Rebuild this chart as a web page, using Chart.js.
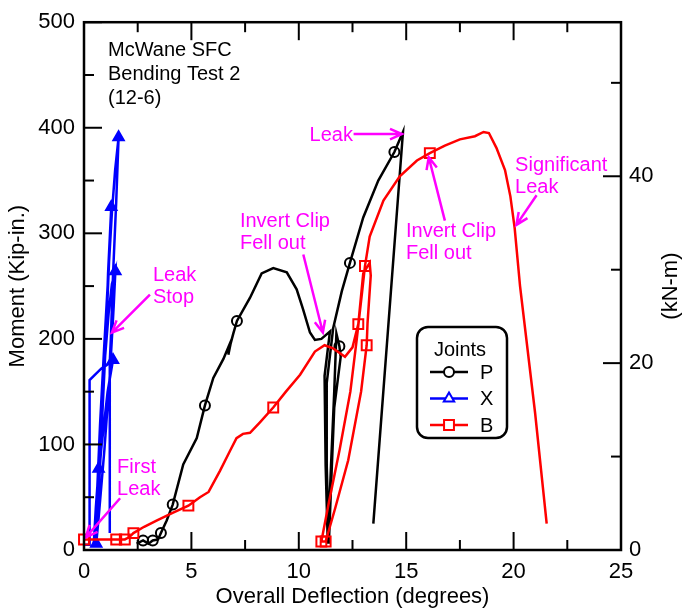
<!DOCTYPE html>
<html>
<head>
<meta charset="utf-8">
<script src="https://cdn.jsdelivr.net/npm/chart.js@4.4.0/dist/chart.umd.min.js"></script>
<style>
  html, body { margin: 0; padding: 0; background: #fff; }
  #wrap { width: 683px; height: 613px; }
</style>
</head>
<body>
<div id="wrap"><canvas id="bendChart" width="683" height="613"></canvas></div>
<script>
// Joint P (black, circles) - deflection in degrees, moment in kip-in.
const pDeflection = [2.45, 2.75, 3.0, 3.2, 3.45, 3.58, 3.85, 4.13, 4.62, 5.25, 5.63, 6.02, 6.49, 6.8, 6.72, 6.82, 6.95, 7.12,
  7.73, 8.27, 8.81, 9.44, 9.9, 10.2, 10.52, 10.75, 11.05, 11.45, 11.2, 11.25, 11.35, 11.5, 11.65, 11.75, 11.89, 11.95,
  11.65, 11.5, 11.4, 11.3, 11.3, 11.6, 12.0, 12.38, 13.0, 13.7, 14.45, 14.85, 13.47];
const pMoment = [6, 9, 6, 9, 10, 16, 28, 43, 81, 106, 137, 163, 181, 196, 185, 195, 205, 217,
  239, 262, 267, 263, 247, 228, 206, 199, 200, 207, 165, 80, 6, 80, 150, 205, 193, 183,
  135, 60, 6, 80, 158, 210, 245, 272, 315, 350, 377, 396, 25];
const pMarkers = [1, 3, 5, 7, 10, 17, 34, 43, 46];

// Joint X (blue, triangles)
const xDeflection = [0.05, 0.26, 0.26, 0.81, 1.05, 1.35, 1.1, 0.8, 0.55, 0.45, 0.55, 0.68, 0.8, 0.95, 1.15, 1.3, 1.46,
  1.38, 1.2, 0.95, 0.7, 0.57, 0.62, 0.75, 0.88, 1.0, 1.12, 1.27, 1.2, 1.05, 0.85, 0.65, 0.5,
  0.6, 0.75, 0.92, 1.1, 1.3, 1.45, 1.61, 1.5, 1.35, 1.25, 1.2, 1.2];
const xMoment = [5, 5, 161, 172, 175, 180, 150, 95, 35, 4, 40, 77, 120, 175, 225, 252, 264,
  230, 165, 95, 35, 6, 30, 80, 140, 190, 262, 325, 290, 215, 130, 55, 5,
  50, 120, 185, 250, 320, 360, 391, 330, 260, 200, 178, 16];
const xMarkers = [5, 11, 16, 21, 27, 39];

// Joint B (red, squares)
const bDeflection = [0.0, 0.8, 1.5, 1.9, 2.1, 2.3, 2.8, 3.4, 4.1, 4.86, 5.4, 5.8, 6.33, 6.8, 7.1, 7.4, 7.73, 8.19, 8.81,
  9.4, 10.06, 10.75, 11.2, 11.6, 12.15, 12.5, 12.77, 13.0, 13.3, 13.35, 13.2, 13.16, 12.9, 12.3, 11.7, 11.25,
  11.05, 11.4, 11.9, 12.4, 12.7, 12.95, 13.08, 13.3, 13.94, 14.7, 15.5, 16.1, 16.8, 17.5, 18.2, 18.6, 18.85,
  19.2, 19.6, 19.85, 20.05, 20.3, 21.0, 21.54];
const bMoment = [10, 10, 10, 10, 12, 16, 22, 28, 35, 42, 50, 55, 75, 94, 106, 110, 111, 121, 135,
  150, 166, 188, 194, 191, 183, 192, 214, 262, 272, 260, 215, 194, 150, 85, 40, 8,
  8, 45, 95, 150, 200, 245, 269, 297, 331, 354, 369, 376, 383, 389, 392, 396, 395,
  381, 360, 335, 305, 250, 130, 25];
const bMarkers = [0, 2, 3, 5, 9, 18, 26, 31, 35, 36, 42, 47];

// axis ticks
const deflectionTicks = [0, 5, 10, 15, 20, 25];
const momentTicks = [0, 100, 200, 300, 400, 500];
const knmTicks = [0, 20, 40];
const KIPIN_TO_KNM = 0.11298;

// callouts: text anchored in data units, arrows from/to in data units
const notes = [
  { lines: ['Leak'], at: [12.52, 393], align: 'right', from: [12.55, 394], to: [14.8, 394] },
  { lines: ['Invert Clip', 'Fell out'], at: [7.26, 311], align: 'left', from: [10.21, 280], to: [11.12, 206] },
  { lines: ['Invert Clip', 'Fell out'], at: [14.99, 302], align: 'left', from: [16.8, 312], to: [16.05, 372] },
  { lines: ['Significant', 'Leak'], at: [20.07, 364], align: 'left', from: [21.07, 336], to: [20.13, 308] },
  { lines: ['Leak', 'Stop'], at: [3.21, 260], align: 'left', from: [3.07, 242], to: [1.3, 206] },
  { lines: ['First', 'Leak'], at: [1.54, 78], align: 'left', from: [1.68, 49], to: [0.08, 12] }
];

const FONT = "'Liberation Sans', Arial, sans-serif";
const MAGENTA = '#ff00ff';

function points(xs, ys) {
  return xs.map((x, i) => ({ x: x, y: ys[i] }));
}
function radii(n, marks, r) {
  return Array.from({ length: n }, (_, i) => marks.includes(i) ? r : 0);
}

const seriesStyle = [
  { label: 'P', xs: pDeflection, ys: pMoment, marks: pMarkers, color: '#000000', style: 'circle', r: 5, fill: 'rgba(0,0,0,0)', order: 1 },
  { label: 'X', xs: xDeflection, ys: xMoment, marks: xMarkers, color: '#0000ff', style: 'triangle', r: 6, fill: '#0000ff', order: 2 },
  { label: 'B', xs: bDeflection, ys: bMoment, marks: bMarkers, color: '#ff0000', style: 'rect', r: 7, fill: 'rgba(0,0,0,0)', order: 0 }
];

const datasets = seriesStyle.map(s => ({
  label: s.label,
  data: points(s.xs, s.ys),
  showLine: true,
  borderColor: s.color,
  borderWidth: 2.5,
  tension: 0,
  pointStyle: s.style,
  pointRadius: radii(s.xs.length, s.marks, s.r),
  pointHoverRadius: radii(s.xs.length, s.marks, s.r),
  pointBorderColor: s.color,
  pointBackgroundColor: s.fill,
  pointBorderWidth: 2,
  order: s.order,
  clip: false
}));

function arrow(ctx, x1, y1, x2, y2) {
  const ang = Math.atan2(y2 - y1, x2 - x1), head = 13, spread = 0.42;
  ctx.beginPath();
  ctx.moveTo(x1, y1);
  ctx.lineTo(x2, y2);
  ctx.moveTo(x2 - head * Math.cos(ang - spread), y2 - head * Math.sin(ang - spread));
  ctx.lineTo(x2, y2);
  ctx.lineTo(x2 - head * Math.cos(ang + spread), y2 - head * Math.sin(ang + spread));
  ctx.stroke();
}

// major ticks plus a minor one halfway, running up to the axis max
function tickMarks(scale, majors) {
  const step = majors[1] - majors[0];
  const out = [];
  for (let i = 0; majors[0] + i * step / 2 <= scale.max + 1e-9; i++) {
    out.push({ px: scale.getPixelForValue(majors[0] + i * step / 2), major: i % 2 === 0 });
  }
  return out;
}

// frame and inward tick marks on all four sides
const frame = {
  id: 'frame',
  afterDraw(chart) {
    const { ctx, chartArea: a, scales } = chart;
    const MAJOR = 18, MINOR = 10;
    const xs = tickMarks(scales.x, deflectionTicks);
    const ys = tickMarks(scales.y, momentTicks);
    const ks = tickMarks(scales.y2, knmTicks);
    ctx.save();
    ctx.strokeStyle = '#000000';
    ctx.lineWidth = 2;
    ctx.lineCap = 'butt';
    const seg = (x1, y1, x2, y2) => {
      ctx.beginPath();
      ctx.moveTo(x1, y1);
      ctx.lineTo(x2, y2);
      ctx.stroke();
    };
    xs.forEach(t => {
      const len = t.major ? MAJOR : MINOR;
      seg(t.px, a.bottom, t.px, a.bottom - len);
      seg(t.px, a.top, t.px, a.top + len);
    });
    ys.forEach(t => seg(a.left, t.px, a.left + (t.major ? MAJOR : MINOR), t.px));
    ks.forEach(t => seg(a.right, t.px, a.right - (t.major ? MAJOR : MINOR), t.px));
    ctx.lineWidth = 2.5;
    ctx.strokeRect(a.left, a.top, a.right - a.left, a.bottom - a.top);
    ctx.restore();
  }
};

const decorations = {
  id: 'decorations',
  afterDatasetsDraw(chart) {
    const { ctx, chartArea: a, scales } = chart;
    ctx.save();

    // right-hand axis title, reading upward
    ctx.fillStyle = '#000';
    ctx.font = '22px ' + FONT;
    ctx.textAlign = 'center';
    ctx.textBaseline = 'middle';
    ctx.save();
    ctx.translate(671, (a.top + a.bottom) / 2);
    ctx.rotate(-Math.PI / 2);
    ctx.fillText('(kN-m)', 0, 0);
    ctx.restore();

    // test caption
    ctx.font = '20px ' + FONT;
    ctx.textAlign = 'left';
    ['McWane SFC', 'Bending Test 2', '(12-6)'].forEach((t, i) => ctx.fillText(t, 108, 50 + i * 24));

    // callouts
    ctx.fillStyle = MAGENTA;
    ctx.strokeStyle = MAGENTA;
    ctx.lineWidth = 2.5;
    notes.forEach(n => {
      const tx = scales.x.getPixelForValue(n.at[0]);
      const ty = scales.y.getPixelForValue(n.at[1]);
      ctx.textAlign = n.align;
      n.lines.forEach((t, i) => ctx.fillText(t, tx, ty + i * 22));
      arrow(ctx,
        scales.x.getPixelForValue(n.from[0]), scales.y.getPixelForValue(n.from[1]),
        scales.x.getPixelForValue(n.to[0]), scales.y.getPixelForValue(n.to[1]));
    });

    // legend box
    const bx = 417, by = 327, bw = 90, bh = 111;
    ctx.strokeStyle = '#000';
    ctx.lineWidth = 2.5;
    ctx.fillStyle = '#fff';
    ctx.beginPath();
    ctx.roundRect(bx, by, bw, bh, 11);
    ctx.fill();
    ctx.stroke();
    ctx.fillStyle = '#000';
    ctx.font = '20px ' + FONT;
    ctx.textAlign = 'center';
    ctx.fillText('Joints', bx + 43, by + 23);
    seriesStyle.forEach((s, i) => {
      const y = by + 45 + i * 26.5;
      ctx.strokeStyle = s.color;
      ctx.lineWidth = 2.5;
      ctx.beginPath();
      ctx.moveTo(bx + 13, y);
      ctx.lineTo(bx + 51, y);
      ctx.stroke();
      ctx.fillStyle = '#fff';
      ctx.lineWidth = 2;
      Chart.helpers.drawPoint(ctx, { pointStyle: s.style, radius: s.r, rotation: 0, borderWidth: 2 }, bx + 32, y);
      ctx.fillStyle = '#000';
      ctx.textAlign = 'left';
      ctx.fillText(s.label, bx + 63, y + 1);
    });
    ctx.restore();
  }
};

Chart.defaults.font.family = FONT;
Chart.defaults.color = '#000';

function useTicks(values) {
  return s => { s.ticks = values.map(v => ({ value: v })); };
}

new Chart(document.getElementById('bendChart'), {
  type: 'scatter',
  data: { datasets: datasets },
  options: {
    responsive: false,
    animation: false,
    layout: { padding: { top: 17, left: 0, right: 0, bottom: 0 } },
    plugins: { legend: { display: false }, tooltip: { enabled: false } },
    scales: {
      x: {
        type: 'linear', min: 0, max: 25,
        afterBuildTicks: useTicks(deflectionTicks),
        ticks: { font: { size: 22 }, padding: 9 },
        grid: { display: false, drawTicks: false },
        border: { display: false },
        title: { display: true, text: 'Overall Deflection (degrees)', font: { size: 22 }, padding: { top: 0, bottom: 3 } },
        afterFit(s) { s.height = 63; }
      },
      y: {
        type: 'linear', position: 'left', min: 0, max: 500,
        afterBuildTicks: useTicks(momentTicks),
        ticks: { font: { size: 22 }, padding: 9 },
        grid: { display: false, drawTicks: false },
        border: { display: false },
        title: { display: true, text: 'Moment (Kip-in.)', font: { size: 22 }, padding: { top: 5, bottom: 0 } },
        afterFit(s) { s.width = 84; }
      },
      y2: {
        type: 'linear', position: 'right', min: 0, max: 500 * KIPIN_TO_KNM,
        afterBuildTicks: useTicks(knmTicks),
        ticks: { font: { size: 22 }, padding: 8 },
        grid: { display: false, drawTicks: false },
        border: { display: false },
        afterFit(s) { s.width = 62; }
      }
    }
  },
  plugins: [decorations, frame]
});
</script>
</body>
</html>
